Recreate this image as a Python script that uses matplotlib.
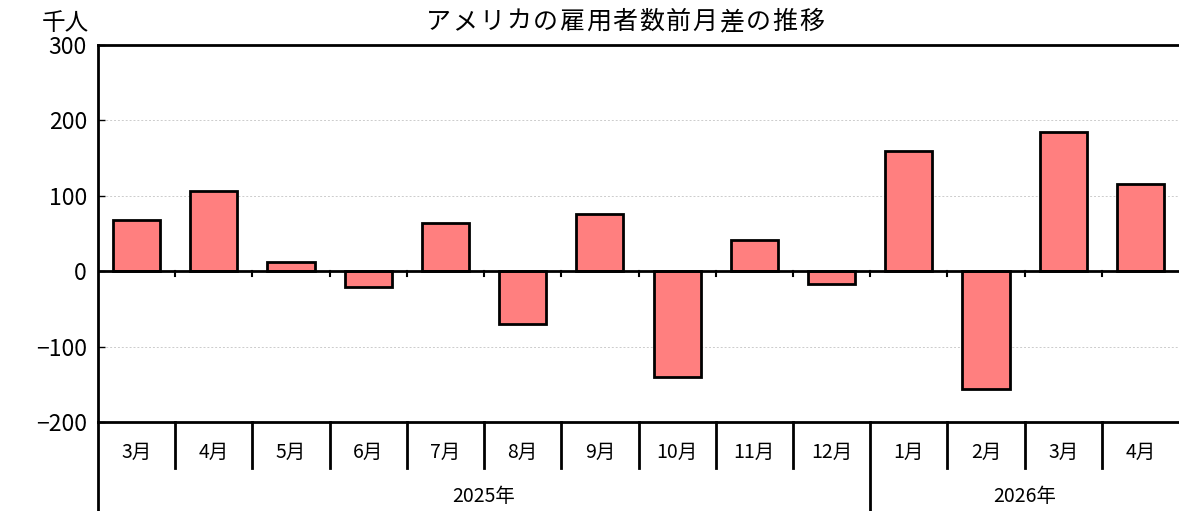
import matplotlib
matplotlib.use("Agg")
import matplotlib.pyplot as plt
from matplotlib.transforms import blended_transform_factory

plt.rcParams['font.family'] = ['Noto Sans CJK JP', 'DejaVu Sans']

months = ["3月", "4月", "5月", "6月", "7月", "8月", "9月", "10月", "11月", "12月",
          "1月", "2月", "3月", "4月"]
values = [68, 107, 12, -21, 64, -70, 76, -140, 41, -17, 160, -156, 185, 115]
years = ["2025年", "2026年"]
year_counts = [10, 4]
yticks = [300, 200, 100, 0, -100, -200]
title = "アメリカの雇用者数前月差の推移"
unit = "千人"

W, H = 1179, 511
fig = plt.figure(figsize=(W / 100, H / 100), dpi=100)
left, right, top, bottom = 98, 1179, 45, 422
ax = fig.add_axes([left / W, 1 - bottom / H, (right - left) / W, (bottom - top) / H])

x = list(range(len(values)))
ax.bar(x, values, width=0.61, color="#FF7F7F", edgecolor="black", linewidth=2, zorder=3)

ax.set_xlim(-0.5, len(values) - 0.5)
ax.set_ylim(-200, 300)
ax.set_yticks(yticks)
ax.set_yticklabels([str(v).replace("-", "−") for v in yticks], fontsize=16.5)
ax.tick_params(axis="y", direction="in", length=5, width=1, pad=8)
ax.set_xticks([])
for v in [200, 100, -100]:
    ax.axhline(v, color="#cccccc", linestyle=(0, (2, 2)), linewidth=0.7, zorder=1)
ax.axhline(0, color="black", linewidth=2, zorder=4)

for s in ["left", "top", "bottom"]:
    ax.spines[s].set_linewidth(2)
ax.spines["right"].set_visible(False)

# tick marks on the zero line at category boundaries
for k in range(1, len(values)):
    ax.plot([k - 0.5, k - 0.5], [0, -7], color="black", linewidth=1.5, zorder=4)

trans = blended_transform_factory(ax.transData, ax.transAxes)
ah = bottom - top
row1 = -(468 - bottom) / ah
row2 = -(H - bottom) / ah
for i, m in enumerate(months):
    ax.text(i, -(452 - bottom) / ah, m, transform=trans, ha="center", va="center", fontsize=14)
# separators
boundaries_year = []
acc = 0
for c in year_counts[:-1]:
    acc += c
    boundaries_year.append(acc)
for k in range(1, len(values)):
    yb = row2 if k in boundaries_year else row1
    ax.plot([k - 0.5, k - 0.5], [0, yb], transform=trans, color="black",
            linewidth=2, clip_on=False)
ax.plot([-0.5, -0.5], [0, row2], transform=trans, color="black", linewidth=2, clip_on=False)
start = 0
for yname, c in zip(years, year_counts):
    ax.text(start + c / 2 - 0.5, -(497 - bottom) / ah, yname, transform=trans,
            ha="center", va="center", fontsize=14)
    start += c

# title with slight letter spacing, characters placed evenly
n = len(title)
t_left, t_right = 425, 825
step = (t_right - t_left) / n
for i, ch in enumerate(title):
    cx = t_left + step * (i + 0.5)
    fig.text(cx / W, 1 - 22 / H, ch, ha="center", va="center", fontsize=18)
fig.text(65 / W, 1 - 23 / H, unit, ha="center", va="center", fontsize=17)

fig.savefig("out.png", dpi=100)
